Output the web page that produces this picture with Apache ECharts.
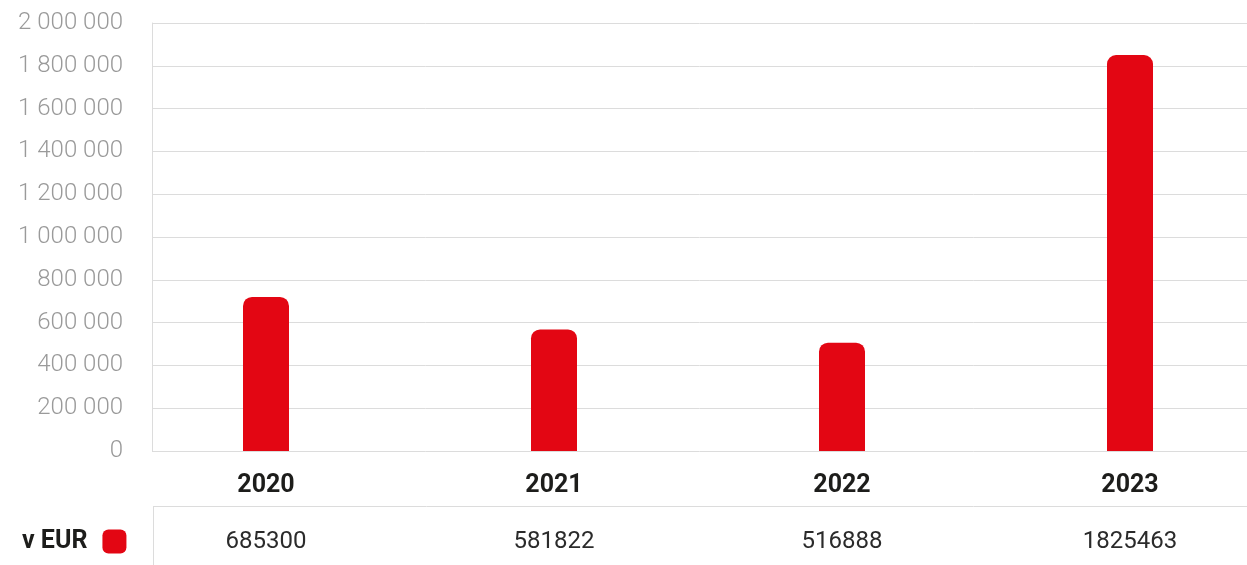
<!DOCTYPE html>
<html>
<head>
<meta charset="utf-8">
<script src="https://cdn.jsdelivr.net/npm/echarts@6/dist/echarts.min.js"></script>
<style>
html,body{margin:0;padding:0;background:#fff;}
#chart{width:1247px;height:565px;}
</style>
</head>
<body>
<div id="chart"></div>
<script>
// Data
const categories = ['2020', '2021', '2022', '2023'];
const barValues = [720000, 568000, 506000, 1850000];   // bar heights as drawn
const tableLabels = ['685300', '581822', '516888', '1825463']; // values printed in the table row
const seriesName = 'v EUR';
const yTickLabels = {
  0: '0', 200000: '200 000', 400000: '400 000', 600000: '600 000', 800000: '800 000',
  1000000: '1 000 000', 1200000: '1 200 000', 1400000: '1 400 000', 1600000: '1 600 000',
  1800000: '1 800 000', 2000000: '2 000 000'
};

const chart = echarts.init(document.getElementById('chart'), null, {renderer: 'canvas'});
const FONT = 'Roboto, "Noto Sans", sans-serif';
const RED = '#e30613';

// category slots placed on a value axis (index -> slot)
const barData = barValues.map((v, i) => [i, v]);
const idxLabel = arr => v => (Math.abs(v - Math.round(v)) < 1e-6 && arr[Math.round(v)] !== undefined) ? arr[Math.round(v)] : '';

chart.setOption({
  animation: false,
  backgroundColor: '#ffffff',
  textStyle: {fontFamily: FONT},
  grid: [
    {left: 152, right: 0, top: 23, bottom: 114, containLabel: false},
    {left: 122, right: 0, top: 23, bottom: 114, containLabel: false}
  ],
  legend: {
    data: [{name: seriesName, icon: 'roundRect'}],
    left: 22, top: 529,
    padding: 0,
    align: 'right',
    itemWidth: 24, itemHeight: 24,
    selectedMode: false,
    textStyle: {fontFamily: FONT, fontSize: 25, fontWeight: 'bold', color: '#1d1d1b', padding: [0, 10, 0, 0]}
  },
  xAxis: [
    {gridIndex: 0, type: 'category', data: categories, show: false},
    {
      gridIndex: 1, type: 'value', min: -0.5, max: 3.40625, interval: 0.5, position: 'bottom',
      axisLine: {show: false}, axisTick: {show: false}, splitLine: {show: false},
      axisLabel: {margin: 22, fontFamily: FONT, fontSize: 25, fontWeight: 'bold', color: '#1d1d1b',
        showMinLabel: true, showMaxLabel: false, formatter: idxLabel(categories)}
    },
    {
      gridIndex: 1, type: 'value', min: -0.5, max: 3.40625, interval: 0.5, position: 'bottom',
      axisLine: {show: false}, axisTick: {show: false}, splitLine: {show: false},
      axisLabel: {margin: 79, fontFamily: FONT, fontSize: 24, fontWeight: 'normal', color: '#2b2b2b',
        showMinLabel: true, showMaxLabel: false, formatter: idxLabel(tableLabels)}
    }
  ],
  yAxis: [
    {
      gridIndex: 0, type: 'value', min: 0, max: 2000000, interval: 200000,
      axisLine: {show: true, lineStyle: {color: '#dcdcdc', width: 1}},
      axisTick: {show: false},
      splitLine: {show: true, lineStyle: {color: '#dcdcdc', width: 1}},
      axisLabel: {
        margin: 29, fontFamily: FONT, fontSize: 24, fontWeight: 300, color: '#9a9a9a',
        formatter: v => yTickLabels[v] !== undefined ? yTickLabels[v] : String(v)
      }
    },
    {gridIndex: 1, type: 'value', min: 0, max: 2000000, interval: 200000, show: false, splitLine: {show: false}}
  ],
  series: [{
    name: seriesName,
    type: 'bar',
    xAxisIndex: 1, yAxisIndex: 1,
    data: barData,
    barWidth: 46,
    itemStyle: {color: RED, borderRadius: [9, 9, 0, 0]},
    emphasis: {disabled: true}
  }],
  graphic: [
    {type: 'line', shape: {x1: 153, y1: 506.5, x2: 1247, y2: 506.5}, style: {stroke: '#dcdcdc', lineWidth: 1}, silent: true},
    {type: 'line', shape: {x1: 153.5, y1: 506, x2: 153.5, y2: 565}, style: {stroke: '#dcdcdc', lineWidth: 1}, silent: true}
  ]
});
</script>
</body>
</html>
